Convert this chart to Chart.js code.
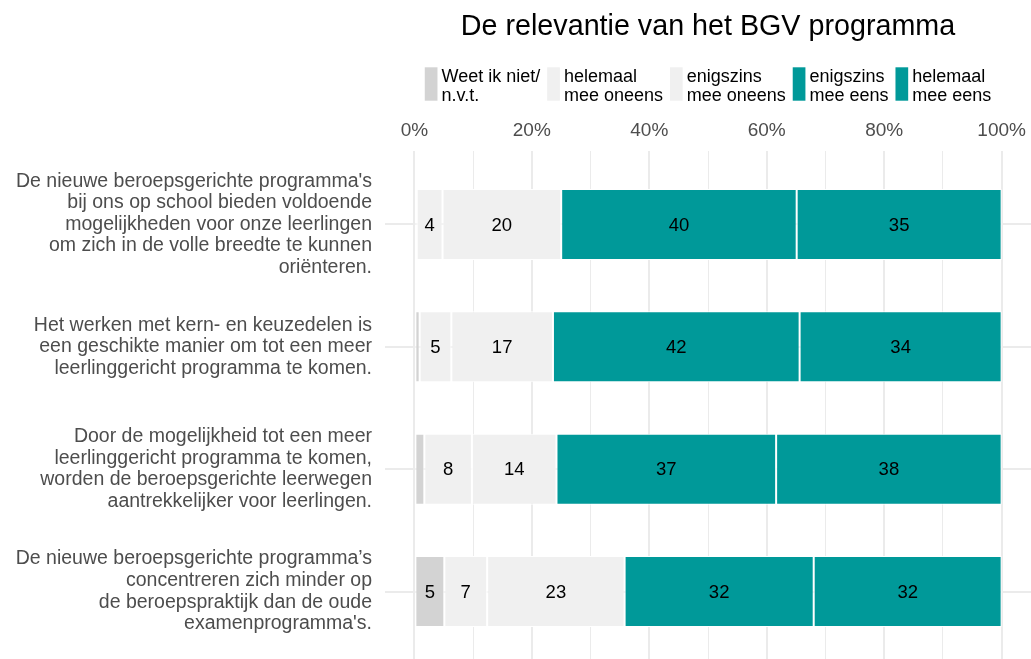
<!DOCTYPE html>
<html>
<head>
<meta charset="utf-8">
<script src="https://cdn.jsdelivr.net/npm/chart.js@4.4.0/dist/chart.umd.min.js"></script>
<style>
  html, body { margin: 0; padding: 0; background: #fff; overflow: hidden; }
  #wrap { width: 1031px; height: 665px; position: relative; }
</style>
</head>
<body>
<div id="wrap"><canvas id="chart"></canvas></div>
<script>
// Statements (y categories), top to bottom
const statements = [
    ["De nieuwe beroepsgerichte programma's", "bij ons op school bieden voldoende", "mogelijkheden voor onze leerlingen", "om zich in de volle breedte te kunnen", "oriënteren."],
    ["Het werken met kern- en keuzedelen is", "een geschikte manier om tot een meer", "leerlinggericht programma te komen."],
    ["Door de mogelijkheid tot een meer", "leerlinggericht programma te komen,", "worden de beroepsgerichte leerwegen", "aantrekkelijker voor leerlingen."],
    ["De nieuwe beroepsgerichte programma’s", "concentreren zich minder op", "de beroepspraktijk dan de oude", "examenprogramma's."]
];

// Percentages per answer
const weetNiet = [0.4, 0.9, 1.7, 5.1];
const helemaalOneens = [4.4, 5.4, 8.1, 7.3];
const enigszinsOneens = [20.2, 17.3, 14.4, 23.4];
const enigszinsEens = [40.1, 42.0, 37.4, 32.2];
const helemaalEens = [34.9, 34.4, 38.4, 32.0];

const seriesNames = [
    ["Weet ik niet/", "n.v.t."],
    ["helemaal", "mee oneens"],
    ["enigszins", "mee oneens"],
    ["enigszins", "mee eens"],
    ["helemaal", "mee eens"]
];
const seriesColors = ['#d3d3d3', '#f0f0f0', '#f0f0f0', '#009999', '#009999'];

const xTickValues = [0, 10, 20, 30, 40, 50, 60, 70, 80, 90, 100];
const chartTitle = 'De relevantie van het BGV programma';

const FONT = '"Liberation Sans", Arial, sans-serif';
Chart.defaults.font.family = FONT;

const seriesValues = [weetNiet, helemaalOneens, enigszinsOneens, enigszinsEens, helemaalEens];

// value labels inside the bars
const barLabels = {
    id: 'barLabels',
    afterDatasetsDraw(chart) {
        const ctx = chart.ctx;
        ctx.save();
        ctx.font = '18.5px ' + FONT;
        ctx.fillStyle = '#000';
        ctx.textAlign = 'center';
        ctx.textBaseline = 'middle';
        chart.data.datasets.forEach((ds, di) => {
            chart.getDatasetMeta(di).data.forEach((bar, i) => {
                const v = ds.data[i].x;
                if (v < 2.5) return;
                const p = bar.getProps(['x', 'y', 'base'], true);
                ctx.fillText(Math.round(v), (p.x + p.base) / 2, p.y + 1);
            });
        });
        ctx.restore();
    }
};

// title + two-line legend over the panel
const header = {
    id: 'header',
    afterDraw(chart) {
        const ctx = chart.ctx;
        const area = chart.chartArea;
        const cx = (area.left + area.right) / 2;
        ctx.save();
        ctx.fillStyle = '#000';
        ctx.font = '28.7px ' + FONT;
        ctx.textAlign = 'center';
        ctx.textBaseline = 'alphabetic';
        ctx.fillText(chartTitle, cx, 34.5);

        ctx.font = '18px ' + FONT;
        ctx.textAlign = 'left';
        const keyW = 12.7, keyGap = 4, itemGap = 7;
        const widths = seriesNames.map(n => Math.max(...n.map(t => ctx.measureText(t).width)));
        const total = widths.reduce((a, w) => a + keyW + keyGap + w, 0) + itemGap * (widths.length - 1);
        let x = cx - total / 2;
        seriesNames.forEach((n, i) => {
            ctx.fillStyle = seriesColors[i];
            ctx.fillRect(x, 67.3, keyW, 33.4);
            ctx.fillStyle = '#000';
            ctx.fillText(n[0], x + keyW + keyGap, 82);
            ctx.fillText(n[1], x + keyW + keyGap, 100.5);
            x += keyW + keyGap + widths[i] + itemGap;
        });
        ctx.restore();
    }
};

new Chart(document.getElementById('chart'), {
    type: 'bar',
    data: {
        datasets: seriesValues.map((vals, s) => ({
            label: seriesNames[s].join(' '),
            data: vals.map((v, i) => ({ x: v, y: i + 1 })),
            backgroundColor: seriesColors[s],
            borderColor: '#ffffff',
            borderWidth: 1,
            borderSkipped: false,
            barPercentage: 0.58,
            categoryPercentage: 1
        }))
    },
    options: {
        indexAxis: 'y',
        responsive: true,
        maintainAspectRatio: false,
        animation: false,
        layout: { padding: 0 },
        scales: {
            x: {
                type: 'linear',
                position: 'top',
                stacked: true,
                min: -5,
                max: 105,
                afterBuildTicks: (scale) => { scale.ticks = xTickValues.map(v => ({ value: v })); },
                afterFit: (scale) => {
                    scale.height = 151;
                    scale.paddingLeft = 0;
                    scale.paddingRight = 0;
                },
                border: { display: false },
                grid: {
                    color: '#ebebeb',
                    lineWidth: (c) => (c.tick && c.tick.value % 20 === 0) ? 2 : 1,
                    drawTicks: false
                },
                ticks: {
                    autoSkip: false,
                    maxRotation: 0,
                    padding: 9,
                    color: '#4d4d4d',
                    font: { size: 19 },
                    callback: (v) => (v % 20 === 0 ? v + '%' : '')
                }
            },
            y: {
                type: 'linear',
                reverse: true,
                stacked: true,
                offset: false,
                min: 0.4,
                max: 4.6,
                afterBuildTicks: (scale) => { scale.ticks = statements.map((s, i) => ({ value: i + 1 })); },
                afterFit: (scale) => {
                    scale.width = 385;
                    scale.paddingTop = 0;
                    scale.paddingBottom = 0;
                },
                border: { display: false },
                grid: { color: '#ebebeb', lineWidth: 2, drawTicks: false, offset: false },
                ticks: {
                    autoSkip: false,
                    padding: 13,
                    color: '#4d4d4d',
                    font: { size: 19.5, lineHeight: 1.11 },
                    callback: (v) => statements[v - 1]
                }
            }
        },
        plugins: {
            legend: { display: false },
            title: { display: false },
            tooltip: { enabled: false }
        }
    },
    plugins: [barLabels, header]
});
</script>
</body>
</html>
